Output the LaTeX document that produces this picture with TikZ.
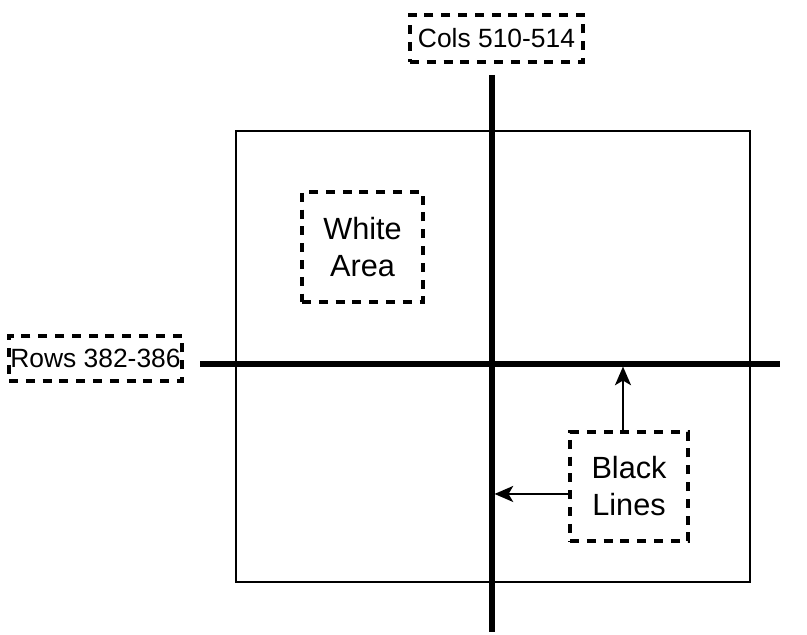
\documentclass[tikz,border=0pt]{standalone}
\usepackage{fontspec}
\setmainfont{Liberation Sans}
\usetikzlibrary{arrows.meta,positioning,calc}

\begin{document}
\begin{tikzpicture}[
    x=0.75pt, y=-0.75pt,
    % Node styles
    tag/.style={draw, dash pattern=on 6.8pt off 5.8pt, line width=2.6pt, inner sep=0pt,
                align=center, font=\fontsize{19.8}{28}\selectfont},
    note/.style={tag, font=\fontsize{23}{27.8}\selectfont},
    frame/.style={draw, line width=1.1pt},
    bar/.style={line width=3.8pt},
    pointer/.style={-{Stealth[length=14pt,width=12pt,inset=3.5pt]}, line width=1.6pt},
]
\useasboundingbox (0,0) rectangle (807,635);

% ============================================================
% Image frame
% ============================================================
\draw[frame] (236,131) rectangle (750,582);

% ============================================================
% Black lines (rows and columns)
% ============================================================
\coordinate (hL) at (200,364);
\coordinate (hR) at (780,364);
\coordinate (vT) at (492,75);
\coordinate (vB) at (492,632);
\draw[bar] (hL) -- (hR);
\draw[bar] (vT) -- (vB);

% ============================================================
% Labels
% ============================================================
\node[tag, minimum width=129.75pt, minimum height=35.25pt] (cols) at (496.5,38.5) {Cols 510-514};
\node[tag, minimum width=129.75pt, minimum height=33.75pt] (rows) at (95.5,358.5) {Rows 382-386};
\node[note, minimum width=90.75pt, minimum height=82.5pt] (white) at (362.5,247) {White\\Area};
\node[note, minimum width=88.5pt, minimum height=81.75pt] (black) at (629,486.5) {Black\\Lines};

% ============================================================
% Pointers
% ============================================================
\draw[pointer, shorten >=1.9pt] ([xshift=-4.5pt]black.north) -- ([xshift=-4.5pt]black.north |- hL);
\draw[pointer, shorten >=1.9pt] ([yshift=-5.6pt]black.west) -- ([yshift=-5.6pt]black.west -| vT);

\end{tikzpicture}
\end{document}
